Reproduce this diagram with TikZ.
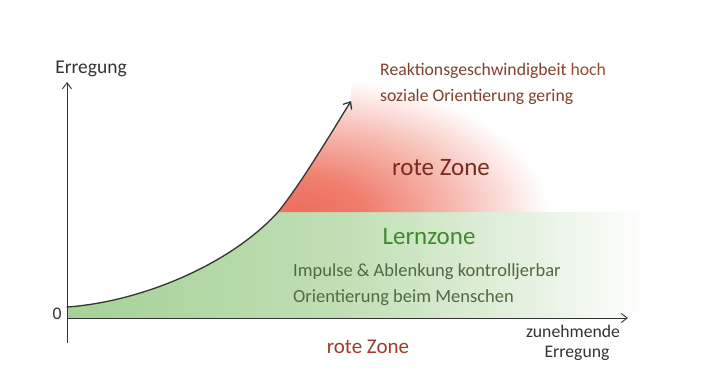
\documentclass[tikz,border=0pt]{standalone}
\usepackage{fontspec}
\setmainfont{Carlito}
\usetikzlibrary{arrows.meta}
\definecolor{axisgray}{HTML}{333333}
\definecolor{brownred}{HTML}{83402F}
\definecolor{hochcol}{HTML}{9A4A35}
\definecolor{zonered}{HTML}{7A2A1E}
\definecolor{lowred}{HTML}{A33A2A}
\definecolor{lerngreen}{HTML}{3F8A2E}
\definecolor{textgreen}{HTML}{4F6A40}
\definecolor{fillgreen}{HTML}{A6D196}
\definecolor{fillred}{HTML}{EE6E5C}
\pgfdeclarehorizontalshading{greenfade}{100bp}{color(0bp)=(fillgreen); color(25bp)=(fillgreen); color(48bp)=(fillgreen!70!white); color(63bp)=(fillgreen!30!white); color(73bp)=(white); color(100bp)=(white)}
\pgfdeclareradialshading{redfade}{\pgfpoint{0bp}{0bp}}{color(0bp)=(fillred); color(6bp)=(fillred!90!white); color(15bp)=(fillred!45!white); color(23bp)=(white); color(50bp)=(white)}
\tikzset{
  axis/.style={draw=axisgray, line width=0.9pt, -{Straight Barb[length=6pt,width=9pt]}},
  curveline/.style={draw=axisgray, line width=1.3pt, line cap=round},
  lbl/.style={inner sep=0pt, font=\fontsize{17.7}{20}\selectfont},
  mid/.style={inner sep=0pt, font=\fontsize{18.5}{21}\selectfont},
  big/.style={inner sep=0pt, font=\fontsize{25}{28}\selectfont},
}
\begin{document}
\begin{tikzpicture}[x=1pt,y=-1pt]
\useasboundingbox (0,0) rectangle (720,384);
\fill[white] (0,0) rectangle (720,384);
% coordinates
\coordinate (o) at (67,318);
\coordinate (ytop) at (67,82);
\coordinate (ybot) at (67,343);
\coordinate (xend) at (628,318);
\coordinate (c0) at (67,307);
\coordinate (c1) at (278,212);
\coordinate (c2) at (351,101);
% green zone
\shade[shading=greenfade] (o) -- (c0) .. controls (140,302) and (230,265) .. (c1) -- (670,212) -- (670,318) -- cycle;
% red zone
\begin{scope}
\clip (c1) .. controls (300,185) and (330,135) .. (c2) -- (352,60) -- (700,60) -- (700,212) -- cycle;
\shade[shading=redfade] (30,65) rectangle (570,365);
\end{scope}
% axes
\draw[axis] (ybot) -- (ytop);
\draw[axis] (o) -- (xend);
% curve
\draw[curveline] (c0) .. controls (140,302) and (230,265) .. (c1);
\draw[curveline, -{Straight Barb[length=6pt,width=10pt]}] (c1) .. controls (300,185) and (330,135) .. (c2);
% labels
\node[inner sep=0pt, font=\fontsize{19.5}{22}\selectfont, text=axisgray] (ylab) at (91,69) {Erregung};
\node[lbl, text=axisgray] (zero) at (57,314) {0};
\node[lbl, text=axisgray] (xlab1) at (573,331) {zunehmende};
\node[lbl, text=axisgray] (xlab2) at (577,353) {Erregung};
\node[inner sep=0pt, font=\fontsize{21}{24}\selectfont, text=lowred] (rzlow) at (368,347) {rote Zone};
\node[lbl, text=brownred, anchor=west] (reak) at (380,71) {Reaktionsgeschwindigbeit \textcolor{hochcol}{hoch}};
\node[lbl, text=brownred, anchor=west] (soz) at (380,97) {soziale Orientierung gering};
\node[big, text=zonered] (rz) at (441,168) {rote Zone};
\node[big, text=lerngreen] (lz) at (429,237) {Lernzone};
\node[mid, text=textgreen, anchor=west] (imp) at (293,272) {Impulse \& Ablenkung kontrolljerbar};
\node[mid, text=textgreen, anchor=west] (ori) at (293,298) {Orientierung beim Menschen};
\end{tikzpicture}
\end{document}
